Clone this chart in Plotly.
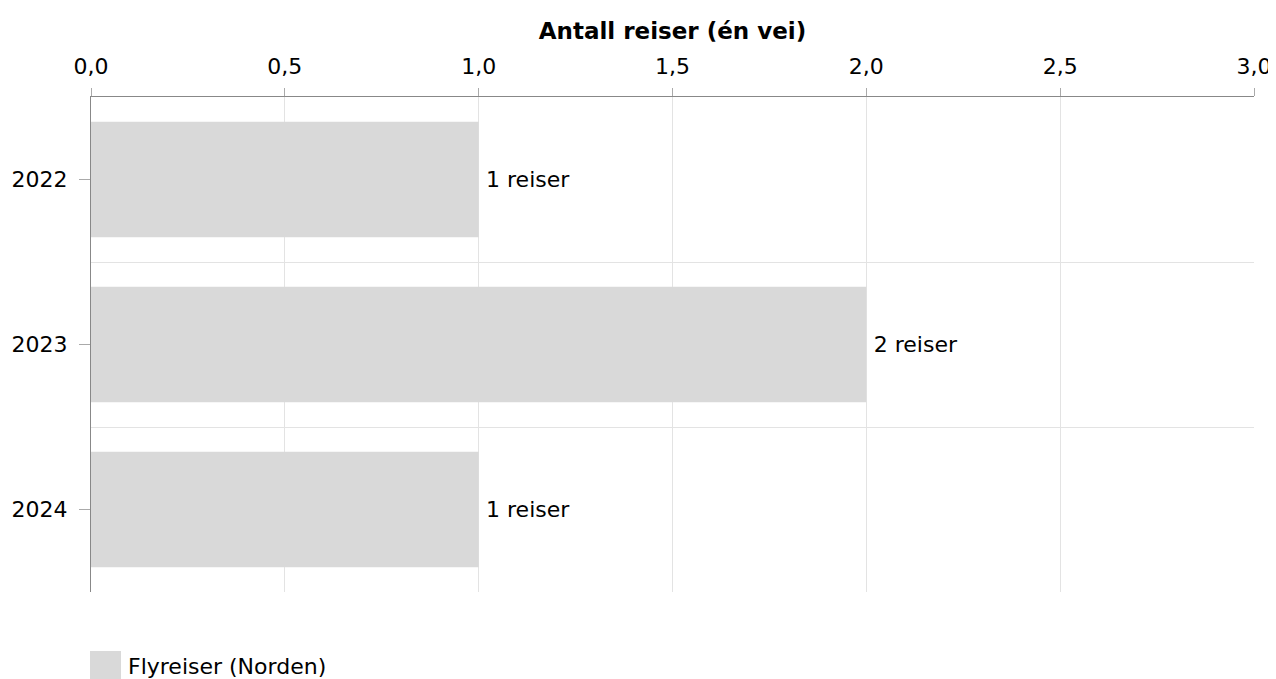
import plotly.graph_objects as go

years = ["2022", "2023", "2024"]
trips = [1, 2, 1]
labels = ["1 reiser", "2 reiser", "1 reiser"]
series_name = "Flyreiser (Norden)"
x_title = "Antall reiser (én vei)"
x_ticks = [0, 0.5, 1.0, 1.5, 2.0, 2.5, 3.0]

ypos = list(range(len(years)))
FONT = "DejaVu Sans"
FS = 22

fig = go.Figure()
fig.add_trace(go.Bar(
    x=trips, y=ypos, orientation="h", width=0.7,
    marker=dict(color="#d9d9d9", line=dict(width=0)),
    text=labels, textposition="outside", cliponaxis=False,
    texttemplate="\u2009%{text}",
    textfont=dict(family=FONT, size=FS, color="#000"),
    name=series_name, showlegend=False,
))

fig.update_layout(
    width=1268, height=671,
    margin=dict(l=83, r=22, t=89, b=87, autoexpand=False),
    plot_bgcolor="white", paper_bgcolor="white",
    separators=",.",
    font=dict(family=FONT, size=FS, color="#000"),
    xaxis=dict(
        side="top", range=[0, 3], tickvals=x_ticks, tickformat=".1f",
        automargin=False,
        showgrid=True, gridcolor="#e3e3e3", gridwidth=1,
        showline=True, linecolor="#888888", linewidth=1,
        ticks="outside", ticklen=8, tickcolor="#aaaaaa",
        ticklabelstandoff=5,
        zeroline=False,
        title=dict(text="<b>" + x_title + "</b>", standoff=8,
                   font=dict(family=FONT, size=23)),
    ),
    yaxis=dict(
        range=[2.5, -0.5], tickvals=ypos, ticktext=years,
        automargin=False,
        showgrid=False, zeroline=False,
        showline=True, linecolor="#888888", linewidth=1,
        ticks="outside", ticklen=11, tickcolor="#aaaaaa",
        ticklabelstandoff=7,
        minor=dict(tickvals=[-0.5, 0.5, 1.5, 2.5], showgrid=True,
                   gridcolor="#e3e3e3", gridwidth=1, ticklen=0),
    ),
)

fig.add_shape(type="rect", xref="paper", yref="paper",
              x0=-0.00086, x1=0.0258, y0=-0.1192, y1=-0.1818,
              fillcolor="#d9d9d9", line=dict(width=0))
fig.add_annotation(xref="paper", yref="paper", x=0.0301, y=-0.1515,
                   text=series_name, showarrow=False, xanchor="left",
                   yanchor="middle", font=dict(family=FONT, size=FS, color="#000"))

fig.write_html("out.html")
